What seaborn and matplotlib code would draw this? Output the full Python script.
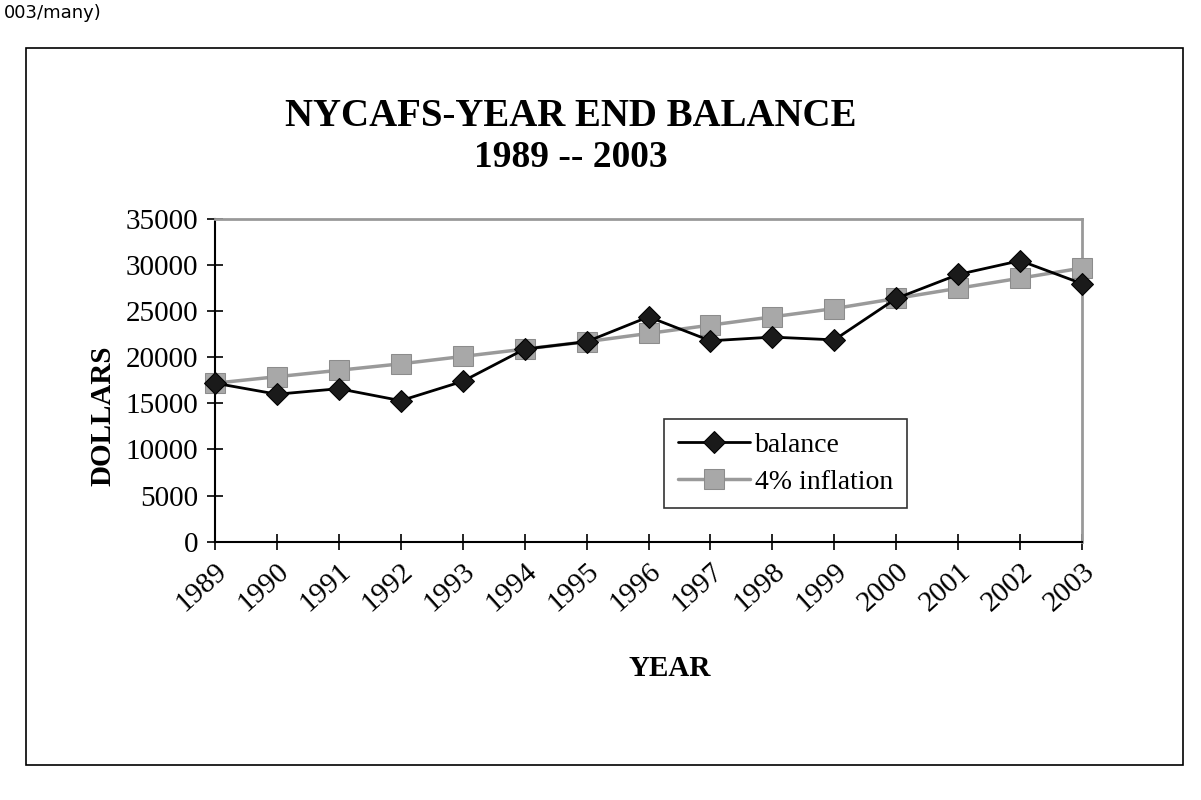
import pandas as pd
import numpy as np
import matplotlib.pyplot as plt
import seaborn as sns
from matplotlib.patches import Rectangle

years = list(range(1989, 2004))
balance = [17200, 16000, 16600, 15300, 17400, 20900, 21700, 24400,
           21800, 22200, 21900, 26400, 29000, 30500, 28000]
inflation = [17200, 17900, 18600, 19300, 20100, 20900, 21700, 22600,
             23500, 24400, 25300, 26400, 27500, 28600, 29700]
y_ticks = [0, 5000, 10000, 15000, 20000, 25000, 30000, 35000]

data = pd.DataFrame({"YEAR": years, "balance": balance, "4% inflation": inflation})

sns.set_style("white")
plt.rcParams["font.family"] = ["Liberation Serif", "DejaVu Serif"]
plt.rcParams["text.color"] = "black"

fig = plt.figure(figsize=(12.01, 8), dpi=100)
ax = fig.add_axes([0.179, 0.323, 0.722, 0.403])

sns.lineplot(x="YEAR", y="4% inflation", data=data, ax=ax, color="#9a9a9a",
             linewidth=2.5, marker="s", markersize=14, markerfacecolor="#a8a8a8",
             markeredgecolor="#8c8c8c", label="4% inflation", zorder=3)
sns.lineplot(x="YEAR", y="balance", data=data, ax=ax, color="black",
             linewidth=2, marker="D", markersize=11, markerfacecolor="#1a1a1a",
             markeredgecolor="black", label="balance", zorder=4)
for line in ax.lines:
    line.set_clip_on(False)

ax.set_xlim(1989, 2003)
ax.set_ylim(0, 35000)
ax.set_yticks(y_ticks)
ax.set_xticks(years)
ax.set_xticklabels([str(y) for y in years], rotation=42, ha="right",
                   rotation_mode="anchor")
ax.tick_params(axis="both", direction="inout", length=12, width=1.2,
               labelsize=21, colors="black", pad=6)
ax.tick_params(axis="x", bottom=True)
ax.tick_params(axis="y", left=True)
ax.set_xlabel("")
ax.set_ylabel("")

for side in ["left", "bottom"]:
    ax.spines[side].set_color("black")
    ax.spines[side].set_linewidth(1.5)
for side in ["top", "right"]:
    ax.spines[side].set_color("#999999")
    ax.spines[side].set_linewidth(2)

handles, labels = ax.get_legend_handles_labels()
order = [labels.index("balance"), labels.index("4% inflation")]
leg = ax.legend([handles[i] for i in order], [labels[i] for i in order],
                loc="upper left", bbox_to_anchor=(0.541, 0.494),
                bbox_transform=fig.transFigure, fontsize=20, frameon=True,
                fancybox=False, edgecolor="black", handlelength=2.6,
                borderpad=0.5, labelspacing=0.4, handletextpad=0.2)
leg.get_frame().set_linewidth(1.2)
for t in leg.get_texts():
    t.set_color("black")

fig.text(0.475, 0.855, "NYCAFS-YEAR END BALANCE", ha="center", va="center",
         fontsize=28, fontweight="bold", color="black")
fig.text(0.475, 0.803, "1989 -- 2003", ha="center", va="center",
         fontsize=27, fontweight="bold", color="black")
fig.text(0.086, 0.48, "DOLLARS", rotation=90, ha="center", va="center",
         fontsize=21, fontweight="bold", color="black")
fig.text(0.558, 0.165, "YEAR", ha="center", va="center",
         fontsize=21, fontweight="bold", color="black")
fig.text(0.003, 0.995, "003/many)", ha="left", va="top", fontsize=13,
         family="DejaVu Sans", color="black")

fig.patches.append(Rectangle((0.022, 0.044), 0.963, 0.896, transform=fig.transFigure,
                             fill=False, edgecolor="black", linewidth=1.2))

fig.savefig("out.png", dpi=100)
